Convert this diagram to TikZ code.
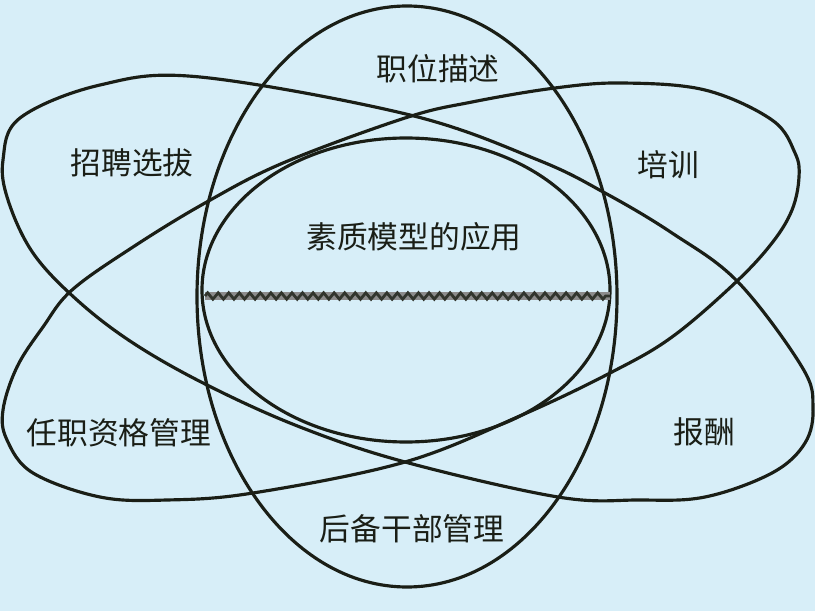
\documentclass[tikz,border=0pt]{standalone}
\usepackage{fontspec}
\newfontfamily\cjk{Noto Sans CJK SC}
\usepackage{tikz}
\usetikzlibrary{decorations.pathmorphing}
\definecolor{bgblue}{HTML}{D7EEF8}
\definecolor{inkdark}{HTML}{1A1E16}

\begin{document}
\begin{tikzpicture}[x=0.02cm,y=-0.02cm,
  font={\cjk\fontsize{17.5}{21}\selectfont},
  ring/.style={draw=inkdark,line width=1.8pt},
  lbl/.style={text=inkdark,inner sep=1pt}]
\path[use as bounding box,fill=bgblue] (0,0) rectangle (815,611);
% the two tilted rings
\draw[ring] plot[smooth cycle,tension=0.6] coordinates {(200,77) (410,115) (538,160) (605,193) (672,233) (738,282) (802,367) (813,407) (805,443) (772,473) (705,497) (638,500) (558,497) (405,462) (300,427) (207,385) (133,343) (77,300) (33,253) (8,200) (3,160) (20,118) (100,85)};
\draw[ring] plot[smooth cycle,tension=0.6] coordinates {(622,83) (705,90) (772,120) (795,153) (799,177) (792,210) (772,243) (735,283) (672,337) (612,372) (522,415) (405,462) (253,493) (167,500) (100,497) (33,473) (7,440) (3,410) (17,367) (43,327) (72,290) (133,247) (205,203) (283,163) (405,118) (472,102) (555,88)};
% upright rings
\draw[ring] (407,296.5) ellipse [x radius=210,y radius=290.5];
\draw[ring] (406,290) ellipse [x radius=204,y radius=152];
% rope across the middle
\coordinate (ropeL) at (205,296);
\coordinate (ropeR) at (610,296);
\draw[line width=5pt,black!45] (ropeL) -- (ropeR);
\draw[inkdark!90,line width=1.6pt,decorate,decoration={zigzag,segment length=6pt,amplitude=1.8pt}] (ropeL) -- (ropeR);
\foreach \x/\y/\lab/\nm in {438/69/职位描述/job,132/163/招聘选拔/hire,668/165/培训/train,
  414/237/素质模型的应用/core,119/433/任职资格管理/qual,704/432/报酬/pay,412/529/后备干部管理/reserve}
  \node[lbl] (\nm) at (\x,\y) {\lab};
\end{tikzpicture}
\end{document}
